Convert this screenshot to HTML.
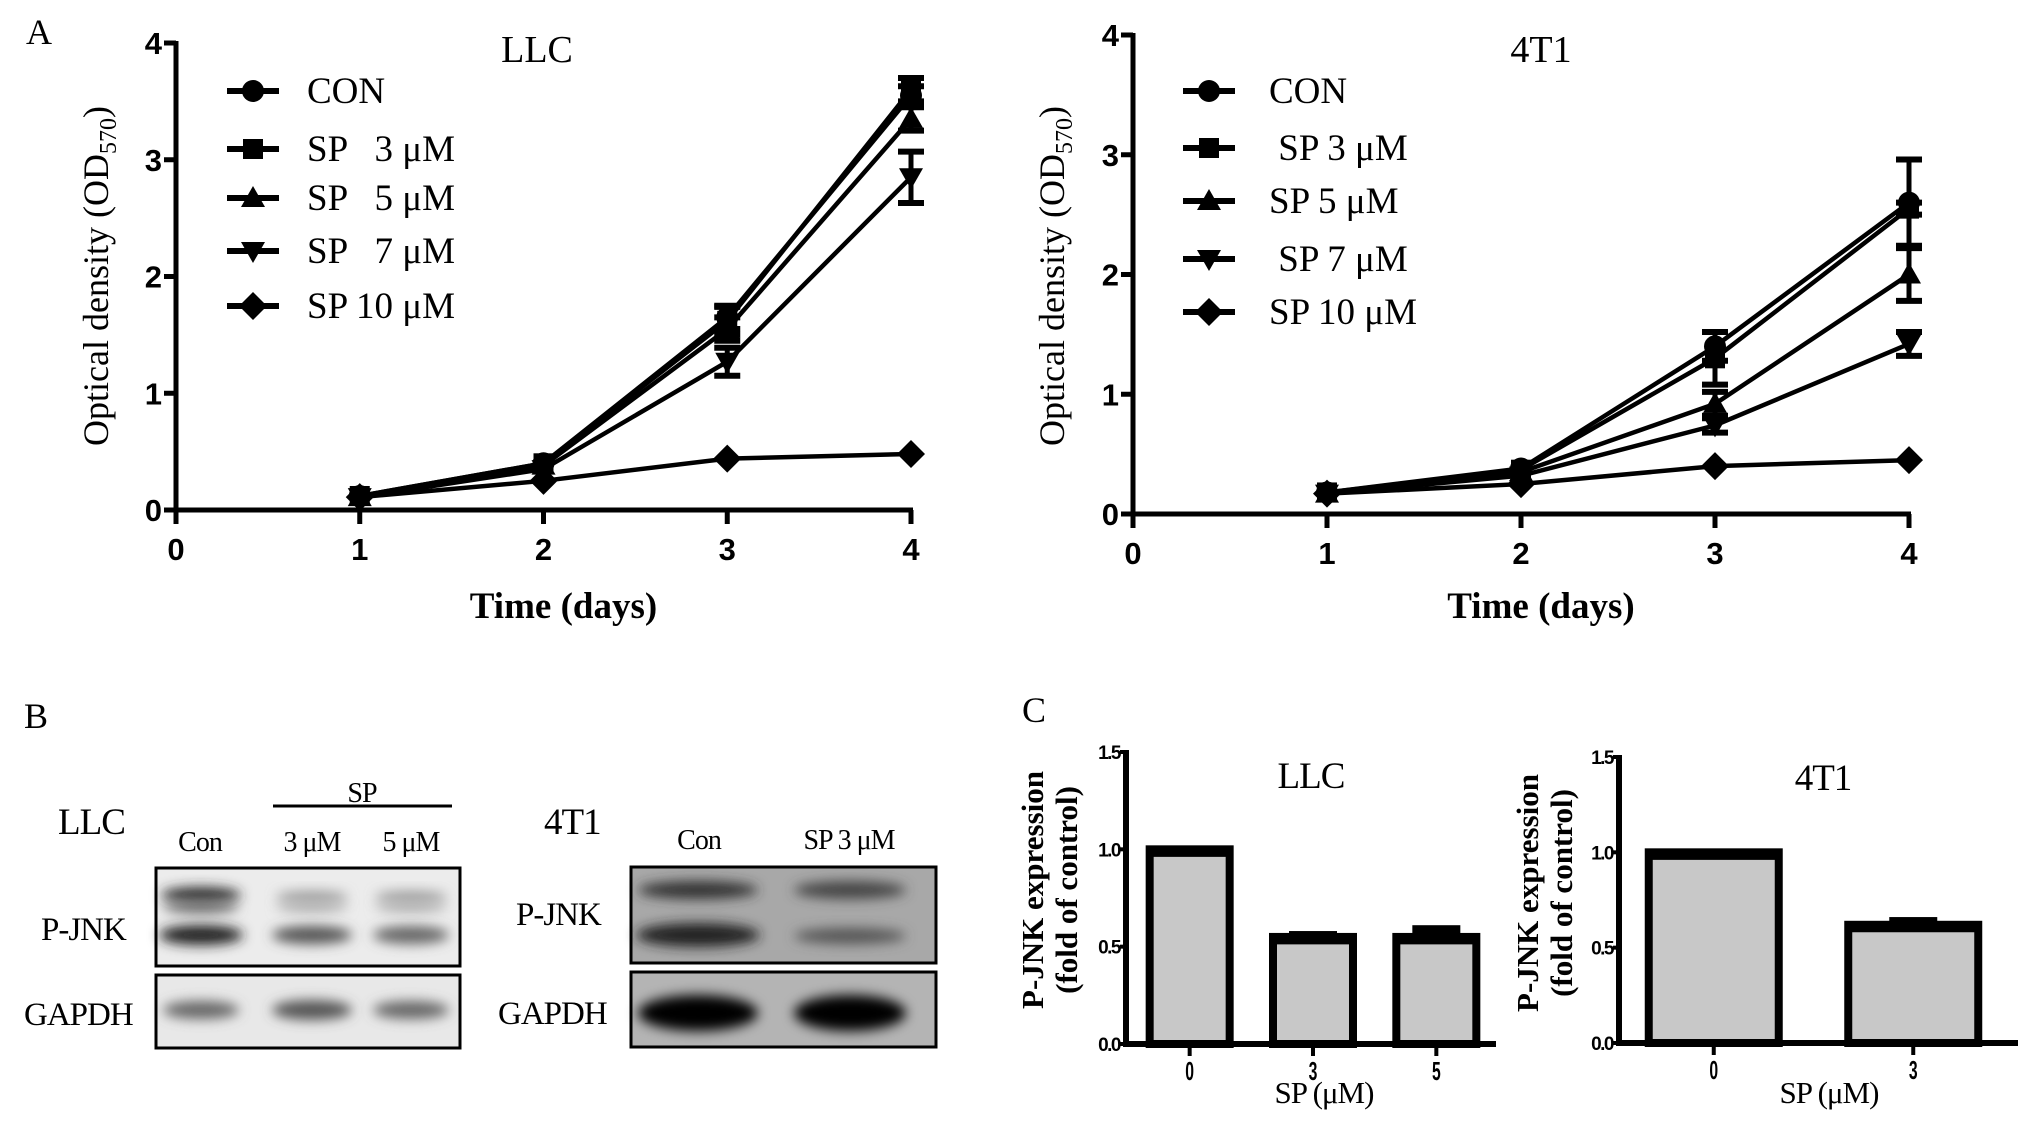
<!DOCTYPE html>
<html><head><meta charset="utf-8">
<style>
html,body{margin:0;padding:0;background:#fff;}
svg{display:block;}
.serif{font-family:"Liberation Serif",serif;}
.sans{font-family:"Liberation Sans",sans-serif;font-weight:bold;}
</style></head>
<body>
<svg id="fig" width="2031" height="1129" viewBox="0 0 2031 1129" xmlns="http://www.w3.org/2000/svg">
<defs>
<filter id="blur6" x="-20%" y="-80%" width="140%" height="260%"><feGaussianBlur stdDeviation="6"/></filter>
</defs>
<g id="panelA"></g>
<g id="panelB"></g>
<g id="panelC"></g>
</svg>
<script>
// ---------- Panel A data ----------
const days = [1, 2, 3, 4];
const seriesNames = ["CON", "SP   3 \u03bcM", "SP   5 \u03bcM", "SP   7 \u03bcM", "SP 10 \u03bcM"];
const seriesNames4T1 = ["CON", " SP 3 \u03bcM", "SP 5 \u03bcM", " SP 7 \u03bcM", "SP 10 \u03bcM"];
const markers = ["circle", "square", "triangle", "invtriangle", "diamond"];
const llcCON = [0.12, 0.40, 1.65, 3.55];
const llcSP3 = [0.12, 0.40, 1.62, 3.60];
const llcSP5 = [0.11, 0.38, 1.55, 3.35];
const llcSP7 = [0.11, 0.35, 1.27, 2.85];
const llcSP10 = [0.11, 0.25, 0.44, 0.48];
const llcErr = [[0.02,0.03,0.10,0.08],[0.02,0.03,0.12,0.10],[0.02,0.03,0.10,0.10],[0.02,0.03,0.12,0.22],[0.01,0.02,0.02,0.02]];
const t1CON = [0.18, 0.38, 1.40, 2.60];
const t1SP3 = [0.18, 0.37, 1.30, 2.55];
const t1SP5 = [0.17, 0.35, 0.92, 2.00];
const t1SP7 = [0.17, 0.32, 0.74, 1.42];
const t1SP10 = [0.17, 0.25, 0.40, 0.45];
const t1Err = [[0.02,0.03,0.12,0.36],[0.02,0.03,0.22,0.05],[0.02,0.03,0.10,0.22],[0.02,0.03,0.06,0.10],[0.01,0.02,0.02,0.02]];
const xTicksA = [0, 1, 2, 3, 4];
const yTicksA = [0, 1, 2, 3, 4];

// ---------- Panel C data ----------
const cLLCcats = ["0", "3", "5"];
const cLLCvals = [1.0, 0.55, 0.55];
const cLLCerr = [0.0, 0.02, 0.05];
const c4T1cats = ["0", "3"];
const c4T1vals = [1.0, 0.62];
const c4T1err = [0.0, 0.03];
const yTicksC = ["0.0", "0.5", "1.0", "1.5"];

const NS = "http://www.w3.org/2000/svg";
function mk(parent, tag, attrs, text) {
  const e = document.createElementNS(NS, tag);
  for (const k in attrs) e.setAttribute(k, attrs[k]);
  if (text !== undefined) e.textContent = text;
  parent.appendChild(e);
  return e;
}

function marker(g, type, cx, cy, s) {
  let el;
  if (type === "circle") el = mk(g, "circle", {cx: cx, cy: cy, r: s * 0.55, fill: "#000"});
  else if (type === "square") el = mk(g, "rect", {x: cx - s*0.5, y: cy - s*0.5, width: s, height: s, fill: "#000"});
  else if (type === "triangle") el = mk(g, "polygon", {points: `${cx},${cy-s*0.6} ${cx+s*0.6},${cy+s*0.45} ${cx-s*0.6},${cy+s*0.45}`, fill: "#000"});
  else if (type === "invtriangle") el = mk(g, "polygon", {points: `${cx},${cy+s*0.6} ${cx+s*0.6},${cy-s*0.45} ${cx-s*0.6},${cy-s*0.45}`, fill: "#000"});
  else el = mk(g, "polygon", {points: `${cx},${cy-s*0.7} ${cx+s*0.7},${cy} ${cx},${cy+s*0.7} ${cx-s*0.7},${cy}`, fill: "#000"});
  
  
  return el;
}

function lineChart(root, cfg) {
  const g = mk(root, "g", {});
  
  
  const xs = v => cfg.x0 + (cfg.x4 - cfg.x0) * v / 4;
  const ys = v => cfg.y0 - (cfg.y0 - cfg.y4) * v / 4;
  const ax = mk(g, "path", {d: `M${cfg.x0},${cfg.y4 - 2} L${cfg.x0},${cfg.y0} L${cfg.x4 + 2},${cfg.y0}`, stroke: "#000", "stroke-width": 5, fill: "none"});
  
  
  yTicksA.forEach(t => {
    const y = ys(t);
    mk(g, "line", {x1: cfg.x0 - 12, y1: y, x2: cfg.x0, y2: y, stroke: "#000", "stroke-width": 5});
    const tl = mk(g, "text", {x: cfg.x0 - 14, y: y + 11, "text-anchor": "end", "font-size": 31, class: "sans"}, String(t));
    
    
  });
  xTicksA.forEach(t => {
    const x = xs(t);
    mk(g, "line", {x1: x, y1: cfg.y0, x2: x, y2: cfg.y0 + 14, stroke: "#000", "stroke-width": 5});
    const tl = mk(g, "text", {x: x, y: cfg.y0 + 50, "text-anchor": "middle", "font-size": 31, class: "sans"}, String(t));
    
    
  });
  cfg.data.forEach((vals, si) => {
    const sg = mk(g, "g", {});
    
    
    const pts = vals.map((v, i) => `${xs(days[i])},${ys(v)}`).join(" ");
    mk(sg, "polyline", {points: pts, stroke: "#000", "stroke-width": 4.5, fill: "none"});
    vals.forEach((v, i) => {
      const e = cfg.err[si][i];
      const x = xs(days[i]);
      if (e > 0.03) {
        mk(sg, "line", {x1: x, y1: ys(v + e), x2: x, y2: ys(v - e), stroke: "#000", "stroke-width": 5});
        mk(sg, "line", {x1: x - 13, y1: ys(v + e), x2: x + 13, y2: ys(v + e), stroke: "#000", "stroke-width": 6});
        mk(sg, "line", {x1: x - 13, y1: ys(v - e), x2: x + 13, y2: ys(v - e), stroke: "#000", "stroke-width": 6});
      }
      marker(sg, markers[si], x, ys(v), 20);
    });
  });
  cfg.names.forEach((n, i) => {
    const lg = mk(g, "g", {});
    
    
    const y = cfg.legY[i];
    mk(lg, "line", {x1: cfg.legX, y1: y, x2: cfg.legX + 52, y2: y, stroke: "#000", "stroke-width": 6});
    marker(lg, markers[i], cfg.legX + 26, y, 20);
    mk(lg, "text", {x: cfg.legTX, y: y + 12, "font-size": 37, class: "serif", "xml:space": "preserve", style: "white-space:pre"}, n);
  });
  const tt = mk(g, "text", {x: cfg.titleX, y: 62, "text-anchor": "middle", "font-size": 38, class: "serif"}, cfg.title);
  
  
  const xt = mk(g, "text", {x: (cfg.x0 + cfg.x4) / 2 + 20, y: 618, "text-anchor": "middle", "font-size": 37, "font-weight": "bold", class: "serif"}, "Time (days)");
  
  
  const yt = mk(g, "text", {x: 0, y: 0, "text-anchor": "middle", "font-size": 36, class: "serif", transform: `translate(${cfg.ytX},276) rotate(-90)`});
  
  
  mk(yt, "tspan", {}, "Optical density (OD");
  mk(yt, "tspan", {"font-size": 24, dy: 8}, "570");
  mk(yt, "tspan", {dy: -8}, ")");
}

const A = document.getElementById("panelA");
const la = mk(A, "text", {x: 26, y: 44, "font-size": 36, class: "serif"}, "A");


lineChart(A, {name: "llc-growth-chart", x0: 176, x4: 911, y0: 510, y4: 43, data: [llcCON, llcSP3, llcSP5, llcSP7, llcSP10], err: llcErr,
  names: seriesNames, legX: 227, legTX: 307, legY: [91, 149, 198, 251, 306], title: "LLC", titleX: 537, ytX: 108});
lineChart(A, {name: "4t1-growth-chart", x0: 1133, x4: 1909, y0: 514, y4: 35, data: [t1CON, t1SP3, t1SP5, t1SP7, t1SP10], err: t1Err,
  names: seriesNames4T1, legX: 1183, legTX: 1269, legY: [91, 148, 201, 259, 312], title: "4T1", titleX: 1541, ytX: 1064});

// ---------- Panel B (western blots) ----------
const B = document.getElementById("panelB");
function txt(p, x, y, s, t, name, anchor) {
  const e = mk(p, "text", {x: x, y: y, "font-size": s, class: "serif", "text-anchor": anchor || "start", style: "letter-spacing:-1px"}, t);
  
  
  return e;
}
txt(B, 24, 728, 36, "B", "panel-label-b");
txt(B, 58, 834, 37, "LLC", "blot-llc-label");
txt(B, 200, 851, 28, "Con", "lane-con", "middle");
txt(B, 312, 851, 28, "3 \u03bcM", "lane-3um", "middle");
txt(B, 411, 851, 28, "5 \u03bcM", "lane-5um", "middle");
txt(B, 362, 802, 28, "SP", "sp-header", "middle");
mk(B, "line", {x1: 273, y1: 806, x2: 452, y2: 806, stroke: "#000", "stroke-width": 3});
txt(B, 41, 940, 33, "P-JNK", "pjnk-label-llc");
txt(B, 24, 1025, 33, "GAPDH", "gapdh-label-llc");

function blot(p, x, y, w, h, bg, bands, name) {
  const g = mk(p, "g", {});
  
  
  mk(g, "rect", {x: x, y: y, width: w, height: h, fill: bg});
  bands.forEach(b => {
    mk(g, "ellipse", {cx: b[0], cy: b[1], rx: b[2], ry: b[3], fill: b[4], filter: "url(#blur6)"});
  });
  mk(g, "rect", {x: x, y: y, width: w, height: h, fill: "none", stroke: "#000", "stroke-width": 3});
}
blot(B, 156, 868, 304, 98, "#ececec", [
  [201, 895, 40, 8, "#2a2a2a"], [201, 907, 38, 6, "#666"], [201, 935, 42, 10, "#222"],
  [312, 897, 36, 6, "#999"], [312, 907, 36, 5, "#aaa"], [312, 935, 40, 9, "#555"],
  [411, 897, 36, 6, "#999"], [411, 907, 36, 5, "#aaa"], [411, 935, 38, 9, "#666"]], "blot-llc-pjnk");
blot(B, 156, 975, 304, 73, "#e8e8e8", [
  [201, 1010, 38, 9, "#666"], [312, 1010, 40, 10, "#555"], [411, 1010, 38, 9, "#666"]], "blot-llc-gapdh");

txt(B, 544, 834, 37, "4T1", "blot-4t1-label");
txt(B, 699, 849, 28, "Con", "lane-con-4t1", "middle");
txt(B, 849, 849, 28, "SP 3 \u03bcM", "lane-sp3-4t1", "middle");
txt(B, 516, 925, 33, "P-JNK", "pjnk-label-4t1");
txt(B, 498, 1024, 33, "GAPDH", "gapdh-label-4t1");
blot(B, 631, 867, 305, 96, "#a8a8a8", [
  [698, 890, 60, 9, "#333"], [850, 890, 56, 9, "#444"],
  [698, 935, 62, 12, "#222"], [850, 936, 56, 8, "#555"]], "blot-4t1-pjnk");
blot(B, 631, 972, 305, 75, "#b4b4b4", [
  [698, 1013, 60, 18, "#000"], [850, 1013, 56, 18, "#000"]], "blot-4t1-gapdh");

// ---------- Panel C (bar charts) ----------
const C = document.getElementById("panelC");
txt(C, 1022, 722, 36, "C", "panel-label-c");

function barChart(root, cfg) {
  const g = mk(root, "g", {});
  
  
  const ys = v => cfg.y0 - (cfg.y0 - cfg.y15) * v / 1.5;
  const n = cfg.cats.length;
  const slot = (cfg.xEnd - cfg.x0) / n;
  cfg.vals.forEach((v, i) => {
    const cx = cfg.x0 + slot * (i + 0.5) + cfg.shift;
    const bar = mk(g, "rect", {x: cx - cfg.bw / 2, y: ys(v), width: cfg.bw, height: cfg.y0 - ys(v), fill: "#c8c8c8", stroke: "#000", "stroke-width": 8});
    
    
    mk(g, "line", {x1: cx - cfg.bw / 2, y1: ys(v) + 4, x2: cx + cfg.bw / 2, y2: ys(v) + 4, stroke: "#000", "stroke-width": 7});
    const e = cfg.err[i];
    if (e > 0) {
      mk(g, "line", {x1: cx, y1: ys(v), x2: cx, y2: ys(v + e), stroke: "#000", "stroke-width": 5});
      mk(g, "rect", {x: cx - 24, y: ys(v + e) - 2, width: 48, height: 9, fill: "#000"});
    }
    mk(g, "line", {x1: cx, y1: cfg.y0, x2: cx, y2: cfg.y0 + 12, stroke: "#000", "stroke-width": 4});
    const tl = mk(g, "text", {x: cx, y: cfg.y0 + 34, "text-anchor": "middle", "font-size": 21, class: "sans", transform: `translate(${cx},${cfg.y0 + 26}) scale(0.75,1.25) translate(${-cx},${-(cfg.y0 + 26)})`}, cfg.cats[i]);
    
    
  });
  const ax = mk(g, "path", {d: `M${cfg.x0},${cfg.y15 - 2} L${cfg.x0},${cfg.y0} L${cfg.xEnd},${cfg.y0}`, stroke: "#000", "stroke-width": 6, fill: "none"});
  
  
  yTicksC.forEach(t => {
    const y = ys(parseFloat(t));
    mk(g, "line", {x1: cfg.x0 - 6, y1: y, x2: cfg.x0, y2: y, stroke: "#000", "stroke-width": 4});
    const tl = mk(g, "text", {x: cfg.x0 - 6, y: y + 7, "text-anchor": "end", "font-size": 19, class: "sans", style: "letter-spacing:-1.5px"}, t);
    
    
  });
  txt(g, cfg.titleX, cfg.titleY, 37, cfg.title, "chart-title", "middle");
  txt(g, cfg.xtX, 1103, 31, "SP (\u03bcM)", "x-axis-title", "middle");
  const yt = mk(g, "text", {x: 0, y: 0, "text-anchor": "middle", "font-size": 31, "font-weight": "bold", class: "serif", transform: `translate(${cfg.ytX},${cfg.ytY}) rotate(-90)`});
  
  
  mk(yt, "tspan", {x: 0, dy: 0}, "P-JNK expression");
  mk(yt, "tspan", {x: 0, dy: 34}, "(fold of control)");
}
barChart(C, {name: "llc-pjnk-bar-chart", cats: cLLCcats, vals: cLLCvals, err: cLLCerr, x0: 1126, xEnd: 1496, y0: 1044, y15: 752, bw: 80, shift: 2,
  title: "LLC", titleX: 1311, titleY: 788, xtX: 1324, ytX: 1043, ytY: 890});
barChart(C, {name: "4t1-pjnk-bar-chart", cats: c4T1cats, vals: c4T1vals, err: c4T1err, x0: 1619, xEnd: 2018, y0: 1043, y15: 757, bw: 130, shift: -5,
  title: "4T1", titleX: 1823, titleY: 790, xtX: 1829, ytX: 1538, ytY: 893});
</script>
</body></html>
